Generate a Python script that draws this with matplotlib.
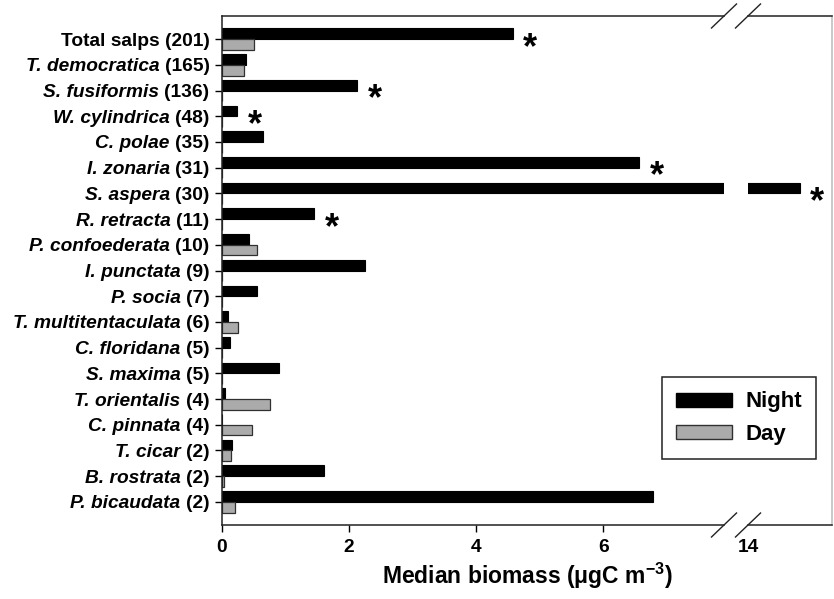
import matplotlib
matplotlib.use("Agg")
import matplotlib.pyplot as plt
import numpy as np

plt.rcParams["font.family"] = ["Liberation Sans", "DejaVu Sans"]
plt.rcParams["font.weight"] = "bold"
plt.rcParams["mathtext.fontset"] = "custom"
plt.rcParams["mathtext.rm"] = "Liberation Sans:bold"
plt.rcParams["mathtext.it"] = "Liberation Sans:italic:bold"
plt.rcParams["mathtext.bf"] = "Liberation Sans:bold"
plt.rcParams["mathtext.default"] = "rm"

# taxa (number of samples in parentheses)
species = ["Total salps", "T. democratica", "S. fusiformis", "W. cylindrica",
           "C. polae", "I. zonaria", "S. aspera", "R. retracta",
           "P. confoederata", "I. punctata", "P. socia", "T. multitentaculata",
           "C. floridana", "S. maxima", "T. orientalis", "C. pinnata",
           "T. cicar", "B. rostrata", "P. bicaudata"]
counts = [201, 165, 136, 48, 35, 31, 30, 11, 10, 9, 7, 6, 5, 5, 4, 4, 2, 2, 2]

# median biomass, ugC m-3
night = [4.58, 0.37, 2.13, 0.24, 0.65, 6.57, 14.83, 1.45, 0.42, 2.25, 0.55,
         0.10, 0.13, 0.90, 0.05, 0.0, 0.15, 1.61, 6.78]
day = [0.51, 0.34, 0.0, 0.0, 0.0, 0.0, 0.0, 0.0, 0.55, 0.0, 0.0,
       0.25, 0.0, 0.0, 0.76, 0.47, 0.14, 0.03, 0.20]

# day/night difference significant
significant = ["Total salps", "S. fusiformis", "W. cylindrica", "I. zonaria",
               "S. aspera", "R. retracta"]

left_xlim = (0, 7.9)
right_xlim = (14, 15.34)
label_size = 13.8

W, H = 834, 599
fig = plt.figure(figsize=(W / 100, H / 100), dpi=100)

# axes frame in pixels: left part, gap, right part
x0, x_brk1, x_brk2, x1 = 222, 724, 748, 832
y_top, y_bot = 16, 525
bottom = 1 - y_bot / H
height = (y_bot - y_top) / H
ax = fig.add_axes([x0 / W, bottom, (x_brk1 - x0) / W, height])
ax2 = fig.add_axes([x_brk2 / W, bottom, (x1 - x_brk2) / W, height], sharey=ax)

y = np.arange(len(species))
bh = 0.415
night_kw = dict(color="black", edgecolor="black", linewidth=0.8)
day_kw = dict(color="#ababab", edgecolor="#303030", linewidth=0.9)

for a in (ax, ax2):
    a.barh(y - bh, night, height=bh, align="edge", **night_kw)
    a.barh(y, day, height=bh, align="edge", **day_kw)
    for s in a.spines.values():
        s.set_linewidth(1.1)
        s.set_color("#222222")

ax.set_xlim(*left_xlim)
ax2.set_xlim(*right_xlim)
ax.set_ylim(len(species) - 1 + 0.9, -0.9)

# tick labels carry the sample count; the taxon name goes to their left
ax.set_yticks(y)
ax.set_yticklabels([f"({n})" for n in counts])
ax.set_xticks([0, 2, 4, 6])
ax.tick_params(axis="both", labelsize=label_size, length=5, width=1, pad=4,
               direction="out")
ax.tick_params(axis="x", pad=5)
ax.spines["right"].set_visible(False)

for name, tl in zip(species, ax.get_yticklabels()):
    ax.annotate(name, xy=(0, 0.5), xycoords=tl, xytext=(-3.8, 0),
                textcoords="offset points", ha="right", va="center",
                fontsize=label_size, fontweight="bold",
                fontstyle="normal" if name == "Total salps" else "italic")

ax2.set_xticks([14])
ax2.tick_params(axis="x", labelsize=label_size, length=0, pad=10)
ax2.tick_params(axis="y", left=False, labelleft=False)
ax2.spines["left"].set_visible(False)
ax2.spines["right"].set_color("#bbbbbb")

# asterisks next to significant night bars
for name in significant:
    i = species.index(name)
    val = night[i]
    target = ax if val <= left_xlim[1] else ax2
    target.annotate("*", xy=(val, i - bh / 2), xytext=(12.5, -17.5),
                    textcoords="offset points", ha="center", va="baseline",
                    fontsize=26, fontweight="bold", annotation_clip=False)

# break marks on top and bottom spines
dx, dy = 12.5 / W, 12 / H
for xb in (x_brk1, x_brk2):
    for yb in (y_top, y_bot):
        fx, fy = xb / W, 1 - yb / H
        fig.add_artist(plt.Line2D([fx - dx, fx + dx], [fy - dy, fy + dy],
                                  color="#222222", linewidth=1.0))

fig.text((x0 + x1) / 2 / W, 1 - 584 / H, "Median biomass (μgC m$^{-3}$)",
         ha="center", va="baseline", fontsize=16.5, fontweight="bold")

handles = [plt.Rectangle((0, 0), 1, 1, facecolor="black", edgecolor="black"),
           plt.Rectangle((0, 0), 1, 1, facecolor="#ababab", edgecolor="#303030")]
leg = fig.legend(handles, ["Night", "Day"], loc="upper left",
                 bbox_to_anchor=(662 / W, 1 - 377 / H), borderaxespad=0,
                 fontsize=16, frameon=True, fancybox=False, framealpha=1,
                 edgecolor="#222222", handlelength=2.5, handleheight=0.6,
                 handletextpad=0.6, labelspacing=0.5, borderpad=0.65)
leg.get_frame().set_linewidth(1.1)

fig.savefig("out.png", dpi=100)
